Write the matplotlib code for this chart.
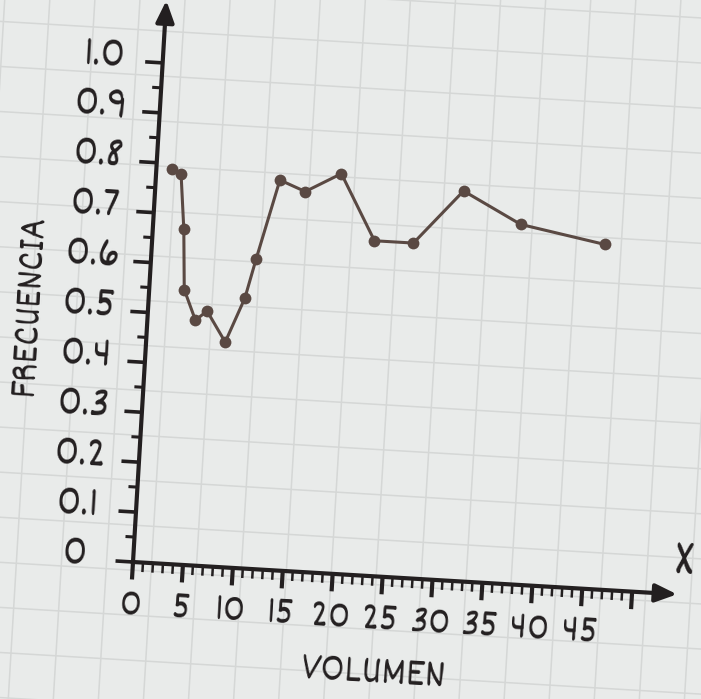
"""
Frecuencia vs volumen - hand drawn style on graph paper
"""
import numpy as np
import matplotlib
matplotlib.use('Agg')
import matplotlib.pyplot as plt
from matplotlib.transforms import Affine2D
from matplotlib.patches import FancyArrowPatch

# data
volumen = [1.6, 2.5, 3.1, 3.5, 4.8, 5.9, 7.9, 9.6, 10.5, 12.4, 15.0, 18.5, 22.2, 26.1, 30.8, 36.7, 45.2]
frecuencia = [0.79, 0.78, 0.67, 0.55, 0.49, 0.51, 0.45, 0.54, 0.62, 0.78, 0.76, 0.80, 0.67, 0.67, 0.78, 0.72, 0.69]

x_ticks = list(range(0, 50, 5))
x_tick_labels = [str(v) for v in x_ticks]
y_ticks = [round(0.1 * i, 1) for i in range(11)]
y_tick_labels = ['0'] + [f'{v:.1f}' for v in y_ticks[1:]]

BG = '#e9ebea'
GRID = '#d5d7d6'
INK = '#231f20'
LINE = '#5a4943'
ANGLE = -3.4
FONT = ['Dekko', 'Roboto Condensed', 'DejaVu Sans']

fig = plt.figure(figsize=(7.01, 6.99), dpi=100)
fig.patch.set_facecolor(BG)
# axes origin sits at pixel (133, 562) of the image, 10 px per x unit, 500 px per y unit
ax = fig.add_axes([133 / 701, (699 - 562) / 699, 550 / 701, 560 / 699])
ax.set_xlim(0, 55)
ax.set_ylim(0, 1.12)
ax.axis('off')

# the whole sheet is tilted a little, rotate everything around the origin
rot = Affine2D().rotate_deg_around(133, 699 - 562, ANGLE)
tr = ax.transData + rot

# graph paper
for gx in np.arange(-2.64 - 4.5 * 6, 80, 4.5):
    ax.plot([gx, gx], [-0.6, 1.6], color=GRID, lw=1.1, transform=tr, clip_on=False, zorder=0)
for gy in np.arange(0.0736 - 0.09 * 6, 1.6, 0.09):
    ax.plot([-30, 90], [gy, gy], color=GRID, lw=1.1, transform=tr, clip_on=False, zorder=0)

# axes with arrows
for a, b in [((0, 0), (0, 1.125)), ((-0.1, 0), (54.5, 0))]:
    arr = FancyArrowPatch(a, b, arrowstyle='-|>,head_length=13,head_width=5.5', mutation_scale=1,
                          lw=3, color=INK, transform=tr, shrinkA=0, shrinkB=0, clip_on=False, zorder=3)
    ax.add_patch(arr)

# y ticks
for v in y_ticks:
    ax.plot([-1.75, 0], [v, v], color=INK, lw=2.6, transform=tr, clip_on=False,
            solid_capstyle='butt', zorder=3)
for v in np.arange(0.05, 1.0, 0.1):
    ax.plot([-0.9, 0], [v, v], color=INK, lw=2.2, transform=tr, clip_on=False,
            solid_capstyle='butt', zorder=3)

# x ticks
for v in range(0, 51):
    if v % 5 == 0:
        ax.plot([v, v], [0, -0.035], color=INK, lw=3.0, transform=tr, clip_on=False,
                solid_capstyle='butt', zorder=3)
    else:
        ax.plot([v, v], [0, -0.019], color=INK, lw=1.8, transform=tr, clip_on=False,
                solid_capstyle='butt', zorder=3)

# tick labels
for v, lab in zip(y_ticks, y_tick_labels):
    ax.text(-5.9, v + 0.01, lab, transform=tr, ha='center', va='center', rotation=ANGLE,
            fontsize=33, color=INK, family=FONT, clip_on=False)
for v, lab in zip(x_ticks, x_tick_labels):
    ax.text(v, -0.086, lab, transform=tr, ha='center', va='center', rotation=ANGLE,
            fontsize=30, color=INK, family=FONT, clip_on=False)

# axis titles
ax.text(24.7, -0.193, 'VOLUMEN', transform=tr, ha='center', va='center', rotation=ANGLE,
        fontsize=30, color=INK, family=FONT, clip_on=False)
ax.text(-11.9, 0.501, 'FRECUENCIA', transform=tr, ha='center', va='center', rotation=90 + ANGLE,
        fontsize=28, color=INK, family=FONT, clip_on=False)
ax.text(55.0, 0.067, 'X', transform=tr, ha='center', va='center', rotation=ANGLE,
        fontsize=40, color=INK, family=FONT, clip_on=False)

# the series
ax.plot(volumen, frecuencia, color=LINE, lw=2.2, marker='o', markersize=8.5,
        markeredgewidth=0, transform=tr, clip_on=False, zorder=4)

plt.savefig('out.png', dpi=100, facecolor=BG)
plt.close()
